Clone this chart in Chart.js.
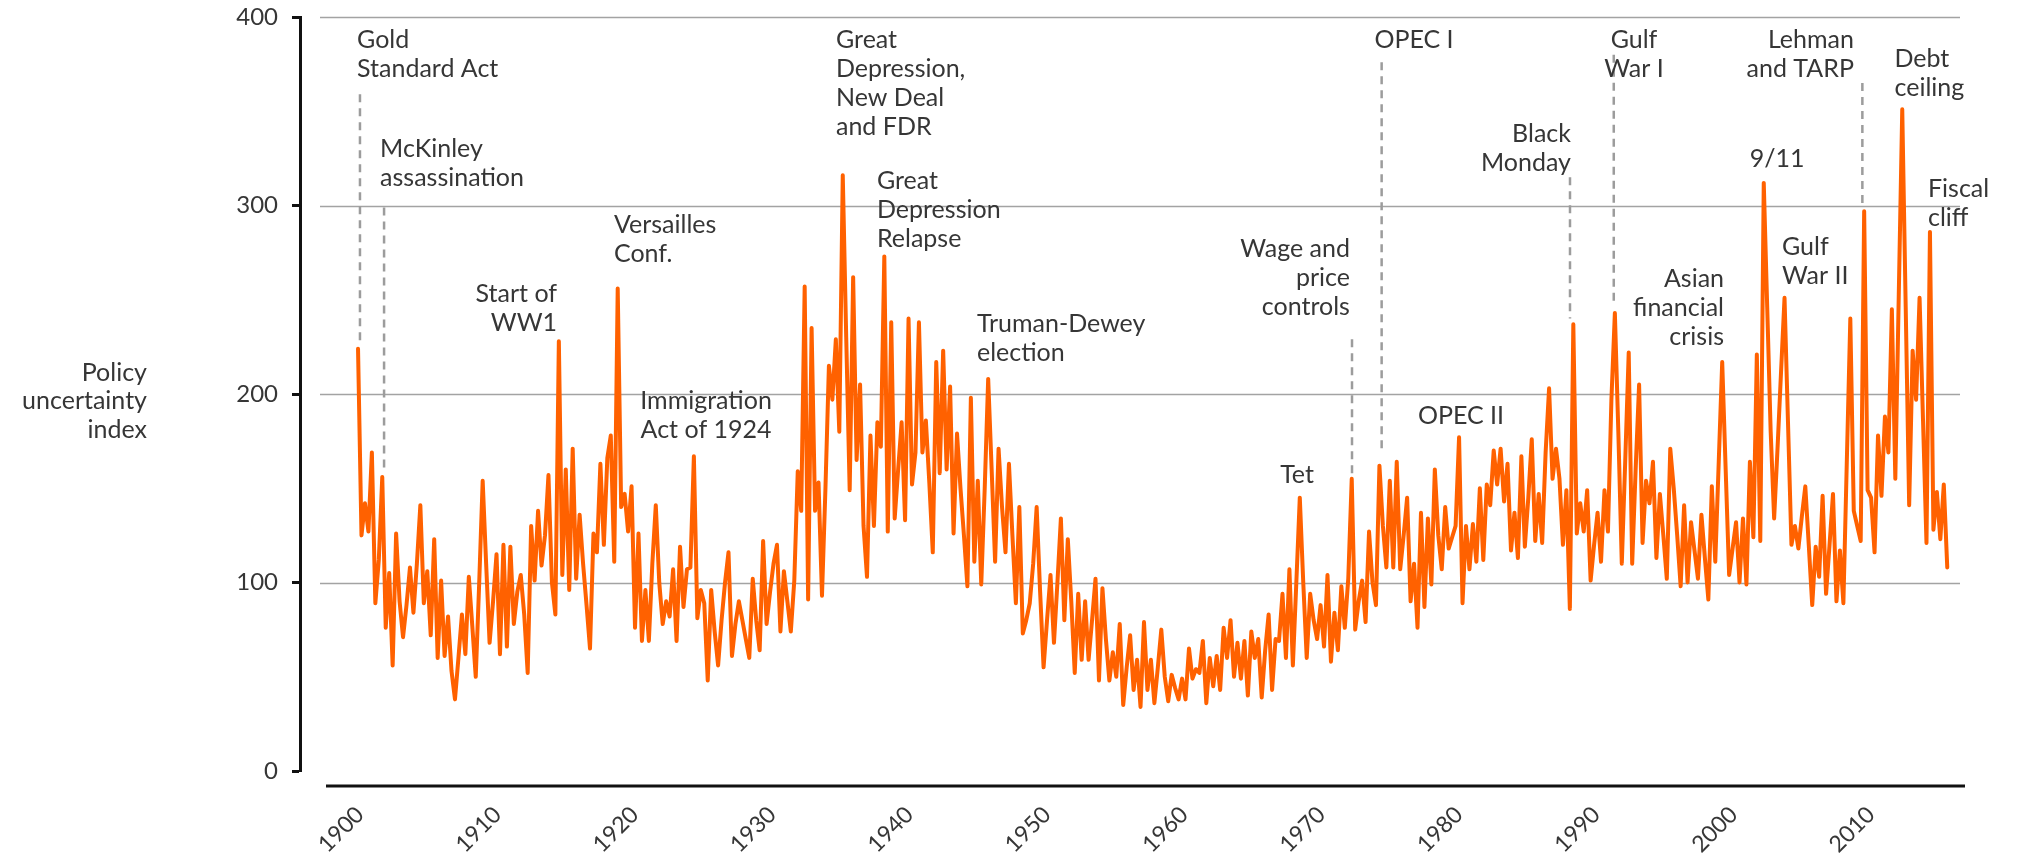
<!DOCTYPE html>
<html>
<head>
<meta charset="utf-8">
<title>Policy uncertainty index, 1900–2014</title>
<script src="https://cdn.jsdelivr.net/npm/chart.js@4.4.1/dist/chart.umd.min.js"></script>
<style>
  html, body { margin: 0; padding: 0; background: #fff; }
  #wrap { width: 2020px; height: 862px; }
</style>
</head>
<body>
<div id="wrap"><canvas id="chart" width="2020" height="862"></canvas></div>
<script>
// quarterly index, one row per decade, starting 1900 Q1
const firstYear = 1900;
const uncertainty = [
  224,125,142,127,169, 89,112,156, 76,105, 56,126, 90, 71, 88,108, 84,110,141, 89,106, 72,123, 60,101, 61, 82, 53, 38, 60, 83, 62,103, 77, 50,100,154,110, 68, 90,
  115, 62,120, 66,119, 78, 95,104, 83, 52,130,101,138,109,125,157,100, 83,228,104,160, 96,171,102,136,110, 88, 65,126,116,163,120,166,178,111,256,140,147,127,151,
   76,126, 69, 96, 69,110,141,100, 78, 90, 82,107, 69,119, 87,107,108,167, 81, 96, 89, 48, 96, 74, 56, 80,100,116, 61, 78, 90, 80, 70, 60,102, 80, 64,122, 78, 95,
  110,120, 74,106, 90, 74,101,159,138,257, 91,235,138,153, 93,150,215,197,229,180,316,230,149,262,165,205,130,103,178,130,185,172,273,127,238,134,160,185,133,240,
  152,169,238,169,186,153,116,217,158,223,160,204,126,179,150,125, 98,198,111,154, 99,150,208,160,111,171,140,116,163,125, 89,140, 73, 80, 89,110,140, 95, 55, 80,
  104, 68,100,134, 80,123, 90, 52, 94, 59, 90, 59, 80,102, 48, 97, 70, 48, 63, 50, 78, 35, 55, 72, 43, 59, 34, 79, 43, 59, 36, 55, 75, 50, 37, 51, 44, 38, 49, 38,
   65, 49, 54, 52, 69, 36, 60, 45, 61, 43, 76, 60, 80, 50, 68, 49, 69, 40, 74, 60, 70, 39, 64, 83, 43, 70, 69, 94, 60,107, 56,100,145,100, 60, 94, 80, 70, 88, 66,
  104, 58, 84, 64, 98, 76,102,155, 75, 90,101, 79,127,100, 88,162,130,108,154,108,164,107,125,145, 90,110, 76,137, 87,134, 99,160,125,107,140,118,124,130,177, 89,
  130,107,131,111,150,112,152,141,170,152,171,143,163,117,137,113,167,119,145,176,122,147,121,169,203,155,171,155,120,149, 86,237,126,142,127,149,101,120,137,111,
  149,127,197,243,180,110,165,222,110,160,205,121,154,142,164,113,147,125,102,171,150,125, 98,141,100,132,117,102,136,113, 91,151,111,164,217,160,104,118,132,100,
  134, 99,164,124,221,122,312,246,180,134,172,212,251,185,120,130,118,135,151,120, 88,119,103,146, 94,120,147, 90,117, 89,165,240,138,130,122,297,149,145,116,178,
  146,188,169,245,155,253,351,246,141,223,197,251,186,121,286,128,148,123,152,108
];
const yearTicks = [1900, 1910, 1920, 1930, 1940, 1950, 1960, 1970, 1980, 1990, 2000, 2010];
const valueTicks = [0, 100, 200, 300, 400];
const axisCaption = ['Policy', 'uncertainty', 'index'];

// annotated events: text lines, first baseline at (x year, y value),
// optional dashed marker [year, from value, to value]
const events = [
  { lines: ['Gold', 'Standard Act'], x: 1899.93, y: 383.6, align: 'left', mark: [1900.14, 359, 228] },
  { lines: ['McKinley', 'assassination'], x: 1901.59, y: 325.7, align: 'left', mark: [1901.88, 299, 160] },
  { lines: ['Start of', 'WW1'], x: 1914.37, y: 248.8, align: 'right' },
  { lines: ['Versailles', 'Conf.'], x: 1918.48, y: 285.4, align: 'left' },
  { lines: ['Immigration', 'Act of 1924'], x: 1925.13, y: 192, align: 'center' },
  { lines: ['Great', 'Depression,', 'New Deal', 'and FDR'], x: 1934.51, y: 383.6, align: 'left' },
  { lines: ['Great', 'Depression', 'Relapse'], x: 1937.47, y: 308.8, align: 'left' },
  { lines: ['Truman-Dewey', 'election'], x: 1944.69, y: 232.9, align: 'left' },
  { lines: ['Wage and', 'price', 'controls'], x: 1971.62, y: 272.7, align: 'right', mark: [1971.77, 229, 158] },
  { lines: ['Tet'], x: 1967.8, y: 152.8, align: 'center' },
  { lines: ['OPEC I'], x: 1973.39, y: 383.6, align: 'left', mark: [1973.91, 376, 168] },
  { lines: ['OPEC II'], x: 1976.53, y: 184.1, align: 'left' },
  { lines: ['Black', 'Monday'], x: 1987.58, y: 333.7, align: 'right', mark: [1987.51, 315, 240] },
  { lines: ['Gulf', 'War I'], x: 1992.13, y: 383.6, align: 'center', mark: [1990.67, 380, 248] },
  { lines: ['Asian', 'financial', 'crisis'], x: 1998.63, y: 256.8, align: 'right' },
  { lines: ['9/11'], x: 2002.46, y: 320.4, align: 'center' },
  { lines: ['Gulf', 'War II'], x: 2002.82, y: 273.7, align: 'left' },
  { lines: ['Lehman', 'and TARP'], x: 2008.01, y: 383.6, align: 'right', mark: [2008.62, 365, 301] },
  { lines: ['Debt', 'ceiling'], x: 2010.94, y: 373.5, align: 'left' },
  { lines: ['Fiscal', 'cliff'], x: 2013.36, y: 304.5, align: 'left' }
];

const ORANGE = '#ff6100';
const INK = '#363636';
const GRID = '#a3a3a3';
const FAMILY = 'Lato, "Open Sans", sans-serif';
const LINE = 29;

const points = uncertainty.map((v, i) => ({ x: firstYear + i / 4, y: v }));

const eventLayer = {
  id: 'eventLayer',
  beforeDatasetsDraw(chart) {
    const { ctx, chartArea: area, scales: { x, y } } = chart;
    ctx.save();
    // horizontal rules, kept clear of the value axis
    ctx.strokeStyle = GRID;
    ctx.lineWidth = 1.5;
    valueTicks.filter(v => v > 0).forEach(v => {
      const py = Math.round(y.getPixelForValue(v)) + 0.5;
      ctx.beginPath();
      ctx.moveTo(area.left + 20, py);
      ctx.lineTo(area.right, py);
      ctx.stroke();
    });
    // dashed markers dropping to the spikes
    ctx.strokeStyle = '#9c9c9c';
    ctx.lineWidth = 2.5;
    ctx.setLineDash([8, 6]);
    events.filter(e => e.mark).forEach(e => {
      const px = x.getPixelForValue(e.mark[0]);
      ctx.beginPath();
      ctx.moveTo(px, y.getPixelForValue(e.mark[1]));
      ctx.lineTo(px, y.getPixelForValue(e.mark[2]));
      ctx.stroke();
    });
    ctx.restore();
  },
  afterDraw(chart) {
    const { ctx, chartArea: area, scales: { x, y } } = chart;
    ctx.save();
    // detached baseline under the plot
    ctx.strokeStyle = '#111';
    ctx.lineWidth = 3;
    const base = area.bottom + 15;
    ctx.beginPath();
    ctx.moveTo(area.left + 26, base);
    ctx.lineTo(area.right + 5, base);
    ctx.stroke();

    ctx.fillStyle = INK;
    ctx.font = '400 25px ' + FAMILY;
    ctx.textBaseline = 'alphabetic';
    events.forEach(e => {
      ctx.textAlign = e.align;
      const px = x.getPixelForValue(e.x);
      const py = y.getPixelForValue(e.y);
      e.lines.forEach((t, k) => ctx.fillText(t, px, py + k * LINE));
    });

    ctx.textAlign = 'right';
    const cy = y.getPixelForValue(207);
    axisCaption.forEach((t, k) => ctx.fillText(t, y.left + 147, cy + k * 28.5));
    ctx.restore();
  }
};

function draw() {
  new Chart(document.getElementById('chart'), {
    type: 'line',
    data: {
      datasets: [{
        data: points,
        borderColor: ORANGE,
        borderWidth: 4,
        borderJoinStyle: 'round',
        borderCapStyle: 'round',
        pointRadius: 0,
        tension: 0
      }]
    },
    options: {
      responsive: false,
      animation: false,
      layout: { padding: { top: 17, right: 60, bottom: 0, left: 0 } },
      plugins: { legend: { display: false }, tooltip: { enabled: false } },
      scales: {
        x: { type: 'linear', display: false, min: 1895.81, max: 2015.67 },
        years: {
          type: 'linear',
          position: 'bottom',
          min: 1895.63,
          max: 2016.48,
          afterBuildTicks: s => { s.ticks = yearTicks.map(v => ({ value: v })); },
          afterFit: s => { s.height = 91; },
          grid: { display: false, drawTicks: false },
          border: { display: false },
          ticks: {
            autoSkip: false,
            minRotation: 45,
            maxRotation: 45,
            padding: 30,
            color: INK,
            font: { family: FAMILY, size: 23, weight: 400 },
            callback: v => String(v)
          }
        },
        y: {
          min: 0,
          max: 400,
          afterBuildTicks: s => { s.ticks = valueTicks.map(v => ({ value: v })); },
          afterFit: s => {
            s.width = 300;
            // let the plot reach the top edge; the 400 label may overhang
            s.paddingTop = 0;
            s.paddingBottom = 0;
          },
          border: { color: '#111', width: 3 },
          grid: { drawOnChartArea: false, tickLength: 8, tickWidth: 3, tickColor: '#111' },
          ticks: {
            padding: 14,
            color: INK,
            font: { family: FAMILY, size: 24, weight: 400 }
          }
        }
      }
    },
    plugins: [eventLayer]
  });
}

document.fonts.load('400 25px Lato').then(draw, draw);
</script>
</body>
</html>
